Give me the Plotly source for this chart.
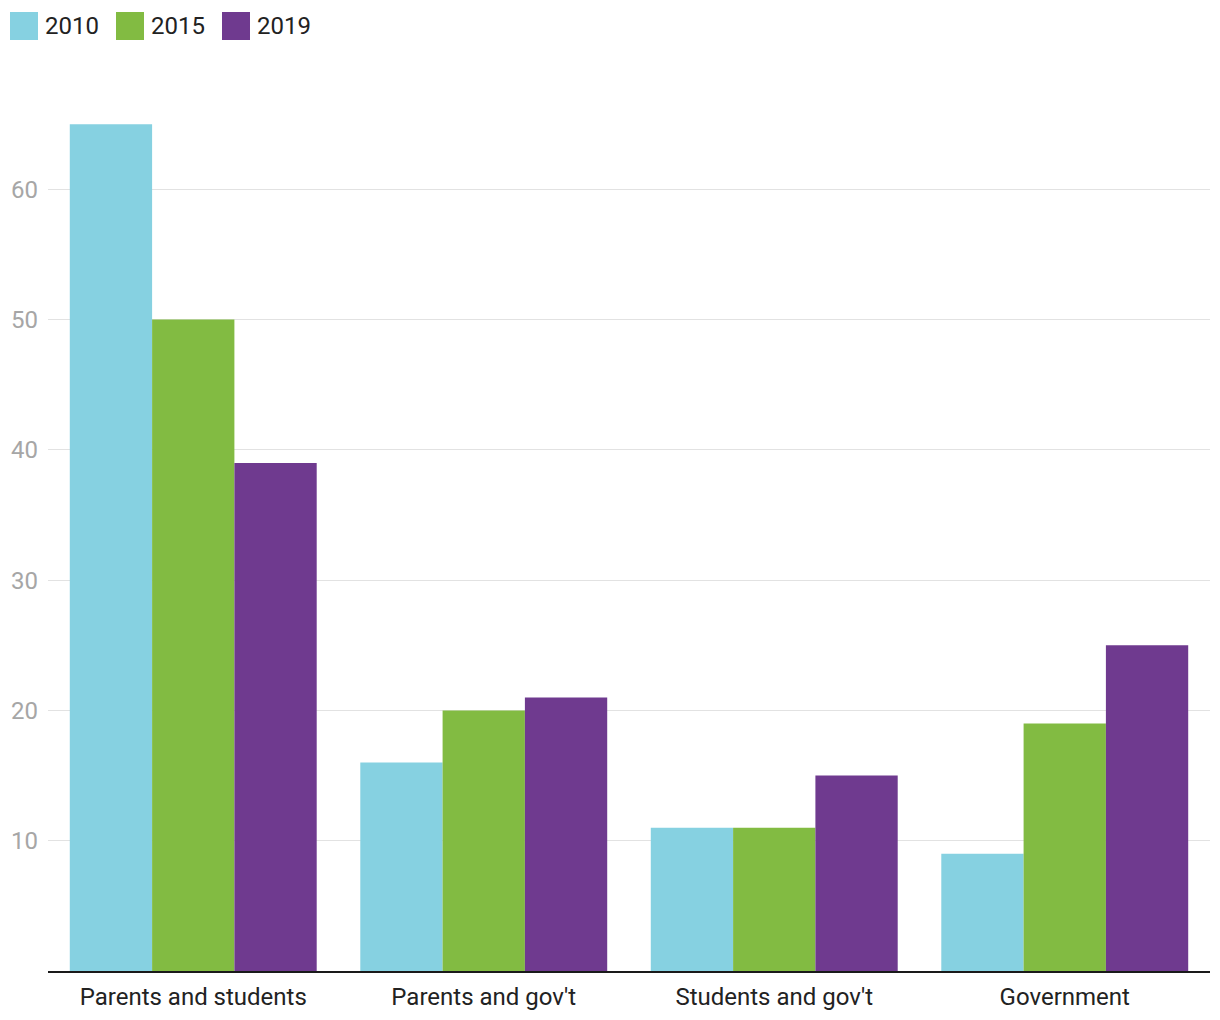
import plotly.graph_objects as go

categories = ["Parents and students", "Parents and gov't", "Students and gov't", "Government"]
years = ["2010", "2015", "2019"]
values_2010 = [65, 16, 11, 9]
values_2015 = [50, 20, 11, 19]
values_2019 = [39, 21, 15, 25]
colors = ["#86D1E1", "#82BB42", "#6F3A8F"]
y_ticks = [10, 20, 30, 40, 50, 60]

# page body has an 8px margin; figure sized to fill the remaining window
OFF = 8
W, H = 1220 - OFF, 1020 - OFF
ML, MR, MT, MB = 48 - OFF, 10, 59 - OFF, 49
PW, PH = W - ML - MR, H - MT - MB

fig = go.Figure()
for name, vals, c in zip(years, [values_2010, values_2015, values_2019], colors):
    fig.add_trace(go.Bar(x=categories, y=vals, name=name, marker=dict(color=c, line=dict(width=0)),
                         showlegend=False))

def px_x(px):
    return (px - OFF - ML) / PW

def px_y(py):
    return (H - MB - (py - OFF)) / PH

# custom legend (screen pixel positions)
legend_x = [10, 116, 222]
for lx, name, c in zip(legend_x, years, colors):
    fig.add_shape(type="rect", xref="paper", yref="paper",
                  x0=px_x(lx), x1=px_x(lx + 28), y0=px_y(40), y1=px_y(12),
                  fillcolor=c, line=dict(width=0))
    fig.add_annotation(xref="paper", yref="paper", x=px_x(lx + 33), y=px_y(26),
                       text=name, showarrow=False, xanchor="left", yanchor="middle",
                       font=dict(family="Roboto", size=24, color="#222222"))

fig.update_layout(
    width=W, height=H,
    margin=dict(l=ML, r=MR, t=MT, b=MB),
    plot_bgcolor="white", paper_bgcolor="white",
    barmode="group", bargap=0.15, bargroupgap=0,
    font=dict(family="Roboto", size=24, color="#222222"),
)
fig.update_xaxes(showline=True, linecolor="#1a1a1a", linewidth=2, showgrid=False,
                 ticks="", tickfont=dict(size=24, color="#222222"), ticklabelstandoff=3,
                 automargin=False)
fig.update_yaxes(range=[0, 70], tickvals=y_ticks, showgrid=True, gridcolor="#e2e2e2",
                 gridwidth=1, zeroline=False, showline=False, ticks="",
                 tickfont=dict(size=24, color="#a6a6a6"), ticklabelstandoff=9,
                 automargin=False)

fig.write_html("out.html")
